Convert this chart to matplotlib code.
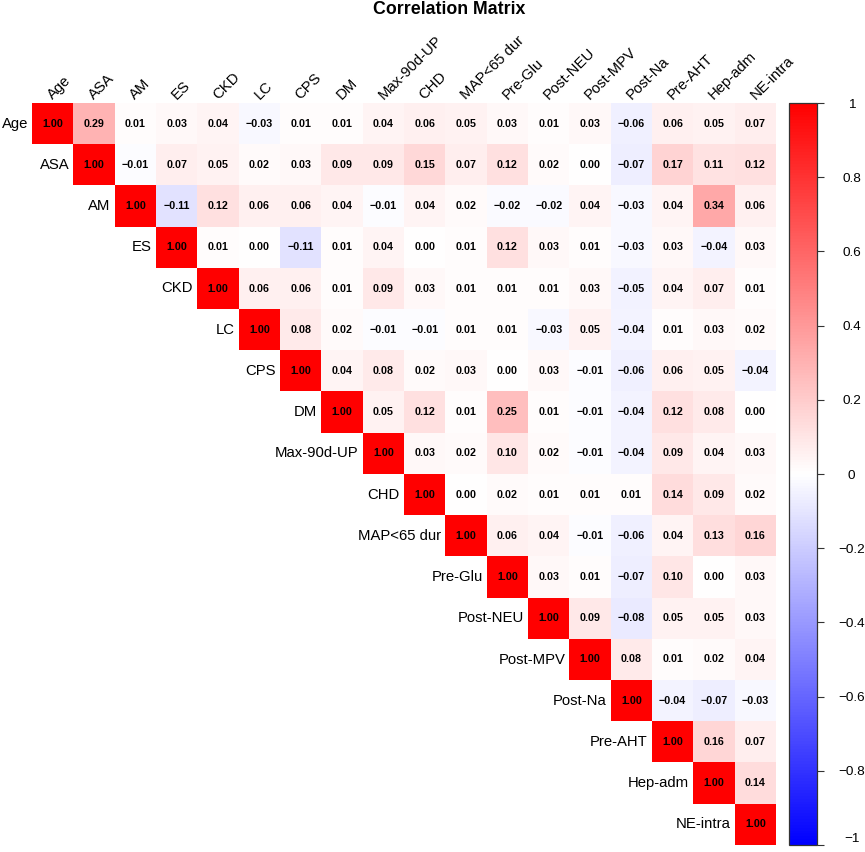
import numpy as np
import matplotlib
matplotlib.use("Agg")
import matplotlib.pyplot as plt
from matplotlib.colors import LinearSegmentedColormap, Normalize
from matplotlib.cm import ScalarMappable

plt.rcParams["font.family"] = ["Liberation Sans", "DejaVu Sans"]

labels = ["Age", "ASA", "AM", "ES", "CKD", "LC", "CPS", "DM", "Max-90d-UP",
          "CHD", "MAP<65 dur", "Pre-Glu", "Post-NEU", "Post-MPV", "Post-Na",
          "Pre-AHT", "Hep-adm", "NE-intra"]

# upper triangle rows, starting at the diagonal
upper_rows = [
    [1.00, 0.29, 0.01, 0.03, 0.04, -0.03, 0.01, 0.01, 0.04, 0.06, 0.05, 0.03, 0.01, 0.03, -0.06, 0.06, 0.05, 0.07],
    [1.00, -0.01, 0.07, 0.05, 0.02, 0.03, 0.09, 0.09, 0.15, 0.07, 0.12, 0.02, 0.00, -0.07, 0.17, 0.11, 0.12],
    [1.00, -0.11, 0.12, 0.06, 0.06, 0.04, -0.01, 0.04, 0.02, -0.02, -0.02, 0.04, -0.03, 0.04, 0.34, 0.06],
    [1.00, 0.01, 0.00, -0.11, 0.01, 0.04, 0.00, 0.01, 0.12, 0.03, 0.01, -0.03, 0.03, -0.04, 0.03],
    [1.00, 0.06, 0.06, 0.01, 0.09, 0.03, 0.01, 0.01, 0.01, 0.03, -0.05, 0.04, 0.07, 0.01],
    [1.00, 0.08, 0.02, -0.01, -0.01, 0.01, 0.01, -0.03, 0.05, -0.04, 0.01, 0.03, 0.02],
    [1.00, 0.04, 0.08, 0.02, 0.03, 0.00, 0.03, -0.01, -0.06, 0.06, 0.05, -0.04],
    [1.00, 0.05, 0.12, 0.01, 0.25, 0.01, -0.01, -0.04, 0.12, 0.08, 0.00],
    [1.00, 0.03, 0.02, 0.10, 0.02, -0.01, -0.04, 0.09, 0.04, 0.03],
    [1.00, 0.00, 0.02, 0.01, 0.01, 0.01, 0.14, 0.09, 0.02],
    [1.00, 0.06, 0.04, -0.01, -0.06, 0.04, 0.13, 0.16],
    [1.00, 0.03, 0.01, -0.07, 0.10, 0.00, 0.03],
    [1.00, 0.09, -0.08, 0.05, 0.05, 0.03],
    [1.00, 0.08, 0.01, 0.02, 0.04],
    [1.00, -0.04, -0.07, -0.03],
    [1.00, 0.16, 0.07],
    [1.00, 0.14],
    [1.00],
]

n = len(labels)
corr = np.full((n, n), np.nan)
for i, row in enumerate(upper_rows):
    corr[i, i:] = row
masked = np.ma.masked_invalid(corr)

cmap = LinearSegmentedColormap.from_list("bwr_pure", ["#0000FF", "#FFFFFF", "#FF0000"])
cmap.set_bad("white")
norm = Normalize(-1, 1)

W, H = 865, 852
fig = plt.figure(figsize=(W / 100, H / 100), dpi=100)

x0, x1, y0, y1 = 32, 776, 103, 845
ax = fig.add_axes([x0 / W, 1 - y1 / H, (x1 - x0) / W, (y1 - y0) / H])
ax.imshow(masked, cmap=cmap, norm=norm, aspect="auto", interpolation="nearest",
          extent=(0, n, n, 0))
ax.set_xlim(0, n)
ax.set_ylim(n, 0)
ax.axis("off")

for i in range(n):
    for j in range(i, n):
        v = corr[i, j]
        ax.text(j + 0.5, i + 0.5, f"{v:.2f}".replace("-", "\u2212"),
                ha="center", va="center", fontsize=7.7, fontweight="bold",
                color="black")
    # row label left of the diagonal cell
    ax.text(i - 0.1, i + 0.5, labels[i], ha="right", va="center", fontsize=10.7)
    # column label on top
    ax.text(i + 0.5, -0.08, labels[i], ha="left", va="baseline", rotation=45,
            rotation_mode="anchor", fontsize=10.7)

fig.text(449 / W, 1 - 9 / H, "Correlation Matrix", ha="center", va="center",
         fontsize=12.8, fontweight="bold")

cax = fig.add_axes([789 / W, 1 - y1 / H, (817 - 789) / W, (y1 - y0) / H])
cb = fig.colorbar(ScalarMappable(norm=norm, cmap=cmap), cax=cax)
cb.outline.set_linewidth(0.9)
cb.outline.set_edgecolor("#333333")
ticks = np.round(np.arange(-1, 1.01, 0.2), 1)
cb.set_ticks(ticks)
cb.set_ticklabels([("%g" % t).replace("-", "\u2212") if abs(t) > 1e-9 else "0" for t in ticks])
cax.tick_params(axis="y", length=5, width=0.8, color="#333333", pad=20, labelsize=9.7)
for lbl in cax.get_yticklabels():
    lbl.set_horizontalalignment("center")
cax.get_yticklabels()[0].set_verticalalignment("bottom")

fig.savefig("out.png", dpi=100)
